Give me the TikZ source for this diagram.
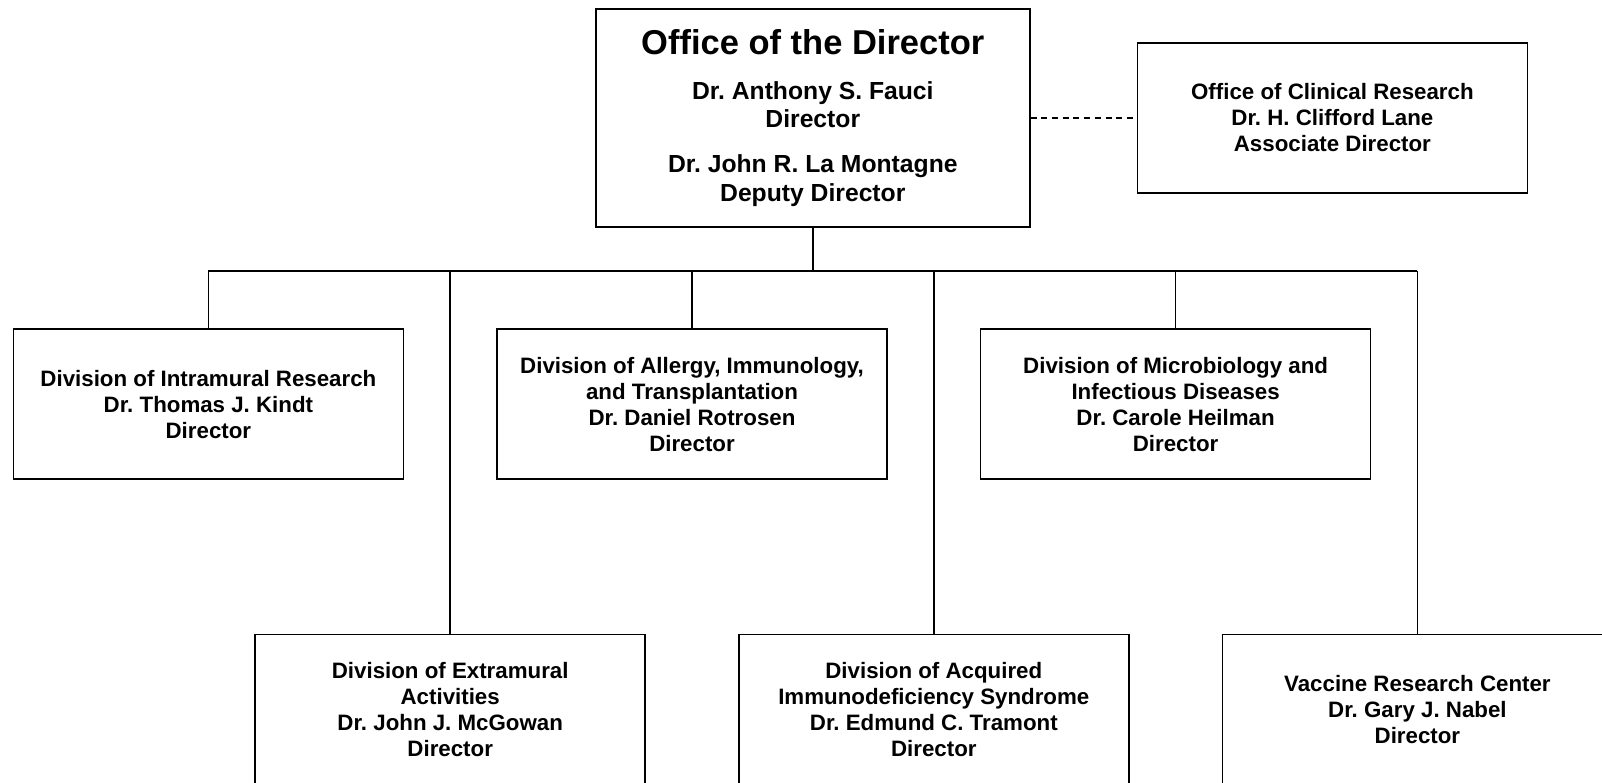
\documentclass[tikz,border=0pt]{standalone}
\usepackage{fontspec}
\setmainfont{Liberation Sans}
\usepackage{tikz}
\usetikzlibrary{positioning}
\frenchspacing
\tikzstyle{division} = [draw,line width=1.6pt,minimum width=390pt,minimum height=150pt,align=center,font=\fontsize{22.3}{26}\selectfont\bfseries]
\tikzstyle{link} = [line width=1.6pt]

\begin{document}
\begin{tikzpicture}[x=1pt,y=-1pt]
	\useasboundingbox (0,0) rectangle (1602,782);
	\coordinate (bus) at (0,270.8);
	
	%Nodes
	\node [draw,line width=1.6pt,minimum width=434pt,minimum height=217.6pt,align=center,font=\fontsize{24.7}{28.6}\selectfont\bfseries] (OD) at (812.8,118)
		{{\fontsize{34.5}{40}\selectfont Office of the Director}\\[15.9pt]
		Dr. Anthony S. Fauci\\Director\\[16.4pt]
		Dr. John R. La Montagne\\Deputy Director};
	\node [division, right=106pt of OD] (OCR) {Office of Clinical Research\\Dr. H. Clifford Lane\\Associate Director};
	
	\node [division] (DIR) at (208.4,404.1) {Division of Intramural Research\\Dr. Thomas J. Kindt\\Director};
	\node [division, right=92pt of DIR] (DAIT) {Division of Allergy, Immunology,\\and Transplantation\\Dr. Daniel Rotrosen\\Director};
	\node [division, right=92pt of DAIT] (DMID) {Division of Microbiology and\\Infectious Diseases\\Dr. Carole Heilman\\Director};
	
	\node [division] (DEA) at (450.2,709.6) {Division of Extramural\\Activities\\Dr. John J. McGowan\\Director};
	\node [division, right=92pt of DEA] (DAIDS) {Division of Acquired\\Immunodeficiency Syndrome\\Dr. Edmund C. Tramont\\Director};
	\node [division, right=92pt of DAIDS] (VRC) {Vaccine Research Center\\Dr. Gary J. Nabel\\Director};
	
	%Lines
	\draw[link,dash pattern=on 6pt off 4.7pt] (OD.east) -- (OCR.west);
	\draw[link] (OD.south) -- (OD.south |- bus);
	\draw[link] (DIR.north |- bus) -- (VRC.north |- bus);
	\draw[link] (DIR.north |- bus) -- (DIR.north);
	\draw[link] (DAIT.north |- bus) -- (DAIT.north);
	\draw[link] (DMID.north |- bus) -- (DMID.north);
	\draw[link] (DEA.north |- bus) -- (DEA.north);
	\draw[link] (DAIDS.north |- bus) -- (DAIDS.north);
	\draw[link] (VRC.north |- bus) -- (VRC.north);
\end{tikzpicture}
\end{document}
